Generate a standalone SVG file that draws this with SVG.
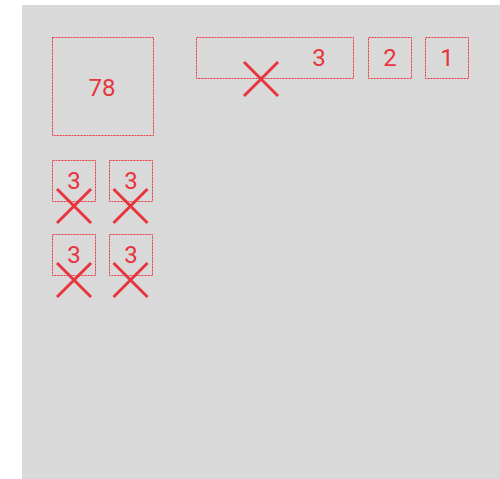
<svg xmlns="http://www.w3.org/2000/svg" width="500" height="479" viewBox="0 0 500 479">
<style>
.box{fill:none;stroke:#e8343c;stroke-width:1;stroke-dasharray:2 1}
.lbl{font-family:Roboto,"Liberation Sans",sans-serif;font-size:24px;fill:#e8343c;text-anchor:middle}
.x{stroke:#e8343c;stroke-width:3;fill:none}
</style>
<defs>
<path id="cross" d="M-17,-17L17,17M17,-17L-17,17"/>
</defs>
<rect x="22" y="5" width="478" height="474" fill="#d9d9d9"/>
<g id="n78"><rect class="box" x="52.5" y="37.5" width="101" height="98"/><text class="lbl" x="102" y="96">78</text></g>
<g id="nwide"><rect class="box" x="196.5" y="37.5" width="157" height="41"/><text class="lbl" x="319" y="66">3</text></g>
<g id="n2"><rect class="box" x="368.5" y="37.5" width="43" height="41"/><text class="lbl" x="390" y="66">2</text></g>
<g id="n1"><rect class="box" x="425.5" y="37.5" width="43" height="41"/><text class="lbl" x="447" y="66">1</text></g>
<g id="s1"><rect class="box" x="52.5" y="160.5" width="43" height="41"/><text class="lbl" x="74" y="189">3</text></g>
<g id="s2"><rect class="box" x="109.5" y="160.5" width="43" height="41"/><text class="lbl" x="131" y="189">3</text></g>
<g id="s3"><rect class="box" x="52.5" y="234.5" width="43" height="41"/><text class="lbl" x="74" y="263">3</text></g>
<g id="s4"><rect class="box" x="109.5" y="234.5" width="43" height="41"/><text class="lbl" x="131" y="263">3</text></g>
<g id="connectors">
<use href="#cross" class="x" x="261" y="79"/>
<use href="#cross" class="x" x="74" y="206"/>
<use href="#cross" class="x" x="130.5" y="206"/>
<use href="#cross" class="x" x="74" y="280"/>
<use href="#cross" class="x" x="130.5" y="280"/>
</g>
</svg>
